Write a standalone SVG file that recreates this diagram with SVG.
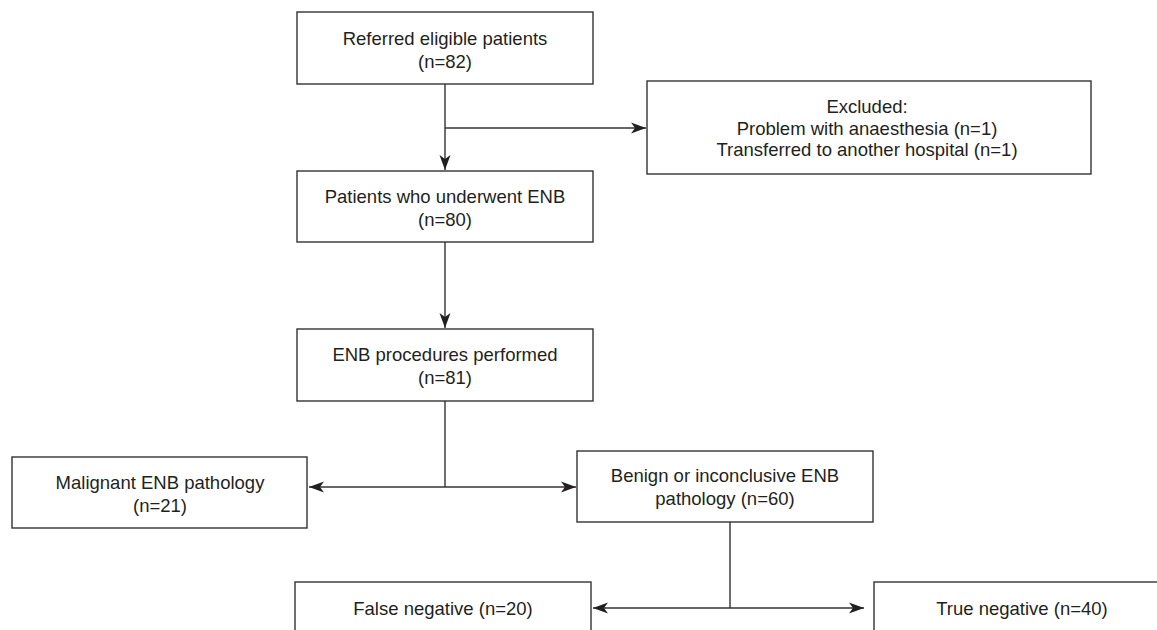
<svg xmlns="http://www.w3.org/2000/svg" width="1157" height="630" viewBox="0 0 1157 630">
<style>
.box{fill:#fff;stroke:#333;stroke-width:1.4}
.t{font-family:"Liberation Sans",Arial,Helvetica,sans-serif;font-size:18.5px;fill:#231f20;text-anchor:middle}
.c{fill:none;stroke:#333;stroke-width:1.4}
</style>
<defs>
<marker id="ah" markerUnits="userSpaceOnUse" markerWidth="16" markerHeight="12" refX="15" refY="6" orient="auto-start-reverse" viewBox="0 0 16 12">
<path d="M0,0.5 L15,6 L0,11.5 L4,6 Z" fill="#231f20"/>
</marker>
</defs>
<rect width="1157" height="630" fill="#fff"/>
<g id="connectors">
<line class="c" x1="445" y1="84" x2="445" y2="170" marker-end="url(#ah)"/>
<line class="c" x1="445" y1="128" x2="646" y2="128" marker-end="url(#ah)"/>
<line class="c" x1="445" y1="242" x2="445" y2="328" marker-end="url(#ah)"/>
<line class="c" x1="445" y1="401" x2="445" y2="487"/>
<line class="c" x1="309" y1="487" x2="576" y2="487" marker-start="url(#ah)" marker-end="url(#ah)"/>
<line class="c" x1="730" y1="522" x2="730" y2="608"/>
<line class="c" x1="593" y1="608" x2="864" y2="608" marker-start="url(#ah)" marker-end="url(#ah)"/>
</g>
<g id="referred">
<rect class="box" x="297" y="12" width="296" height="72"/>
<text class="t" x="445" y="45">Referred eligible patients</text>
<text class="t" x="445" y="68">(n=82)</text>
</g>
<g id="excluded">
<rect class="box" x="647" y="81" width="444" height="93"/>
<text class="t" x="867" y="113">Excluded:</text>
<text class="t" x="867" y="134.5">Problem with anaesthesia (n=1)</text>
<text class="t" x="867" y="156">Transferred to another hospital (n=1)</text>
</g>
<g id="underwent">
<rect class="box" x="297" y="171" width="296" height="71"/>
<text class="t" x="445" y="203">Patients who underwent ENB</text>
<text class="t" x="445" y="226">(n=80)</text>
</g>
<g id="procedures">
<rect class="box" x="297" y="329" width="296" height="72"/>
<text class="t" x="445" y="361">ENB procedures performed</text>
<text class="t" x="445" y="384">(n=81)</text>
</g>
<g id="malignant">
<rect class="box" x="12" y="457" width="295" height="71"/>
<text class="t" x="160" y="489">Malignant ENB pathology</text>
<text class="t" x="160" y="512">(n=21)</text>
</g>
<g id="benign">
<rect class="box" x="577" y="451" width="296" height="71"/>
<text class="t" x="725" y="482">Benign or inconclusive ENB</text>
<text class="t" x="725" y="505">pathology (n=60)</text>
</g>
<g id="falseneg">
<rect class="box" x="295" y="582" width="296" height="72"/>
<text class="t" x="443" y="615">False negative (n=20)</text>
</g>
<g id="trueneg">
<rect class="box" x="874" y="582" width="296" height="72"/>
<text class="t" x="1022" y="615">True negative (n=40)</text>
</g>
</svg>
